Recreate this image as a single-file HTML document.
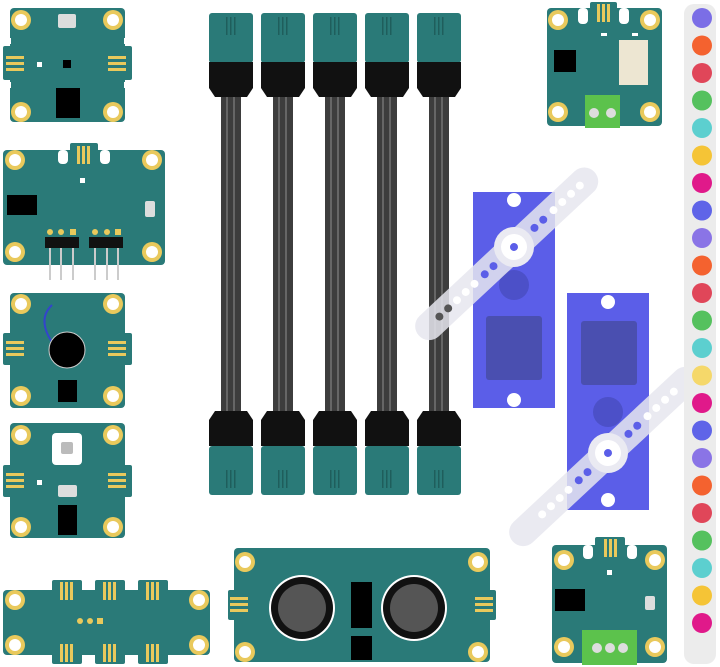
<!DOCTYPE html>
<html><head><meta charset="utf-8"><style>html,body{margin:0;padding:0;background:#fff}svg{display:block}</style></head>
<body>
<svg width="720" height="667" viewBox="0 0 720 667" xmlns="http://www.w3.org/2000/svg">
<defs>
<g id="hole"><circle r="10" fill="#e9c95c"/><circle r="6" fill="#fff"/></g>
<g id="padsH"><rect x="0" y="0" width="18" height="3" fill="#e9c95c"/><rect x="0" y="6" width="18" height="3" fill="#e9c95c"/><rect x="0" y="12" width="18" height="3" fill="#e9c95c"/></g>
<g id="padsV"><rect x="0" y="0" width="3" height="18" fill="#e9c95c"/><rect x="5" y="0" width="3" height="18" fill="#e9c95c"/><rect x="10" y="0" width="3" height="18" fill="#e9c95c"/></g>
<g id="cable">
 <rect x="2" y="13" width="44" height="50" rx="3" fill="#2a7a78"/>
 <rect x="19" y="17" width="1.5" height="18" fill="#1f5e5c"/><rect x="23" y="17" width="1.5" height="18" fill="#1f5e5c"/><rect x="27" y="17" width="1.5" height="18" fill="#1f5e5c"/>
 <path d="M2 62 H46 V88 L40 97 H8 L2 88Z" fill="#111"/>
 <rect x="14" y="97" width="20" height="314" fill="#3d3d3d"/>
 <rect x="19" y="97" width="2" height="314" fill="#666"/><rect x="26" y="97" width="2" height="314" fill="#666"/>
 <path d="M8 411 H40 L46 420 V446 H2 V420Z" fill="#111"/>
 <rect x="2" y="446" width="44" height="49" rx="3" fill="#2a7a78"/>
 <rect x="19" y="470" width="1.5" height="18" fill="#1f5e5c"/><rect x="23" y="470" width="1.5" height="18" fill="#1f5e5c"/><rect x="27" y="470" width="1.5" height="18" fill="#1f5e5c"/>
</g>
</defs>

<!-- Module 1 -->
<rect x="10" y="8" width="115" height="114" rx="4" fill="#2a7a78"/>
<rect x="3" y="46" width="129" height="34" rx="2" fill="#2a7a78"/>
<rect x="3" y="38" width="8" height="6" fill="#fff"/><rect x="124" y="38" width="8" height="6" fill="#fff"/>
<rect x="3" y="82" width="8" height="6" fill="#fff"/><rect x="124" y="82" width="8" height="6" fill="#fff"/>
<use href="#padsH" x="6" y="56"/><use href="#padsH" x="108" y="56"/>
<use href="#hole" x="21" y="20"/><use href="#hole" x="113" y="20"/><use href="#hole" x="21" y="112"/><use href="#hole" x="113" y="112"/>
<rect x="58" y="14" width="18" height="14" rx="2" fill="#ddd"/>
<rect x="37" y="62" width="5" height="5" fill="#fff"/><rect x="63" y="60" width="8" height="8" fill="#000"/>
<rect x="56" y="88" width="24" height="30" fill="#000"/>

<!-- Module 2 -->
<rect x="3" y="150" width="162" height="115" rx="4" fill="#2a7a78"/>
<rect x="70" y="143" width="28" height="20" rx="2" fill="#2a7a78"/>
<rect x="58" y="150" width="10" height="14" rx="4" fill="#fff"/><rect x="100" y="150" width="10" height="14" rx="4" fill="#fff"/>
<use href="#padsV" x="77" y="146"/>
<use href="#hole" x="15" y="160"/><use href="#hole" x="152" y="160"/><use href="#hole" x="15" y="252"/><use href="#hole" x="152" y="252"/>
<rect x="7" y="195" width="30" height="20" fill="#000"/>
<rect x="145" y="201" width="10" height="16" rx="2" fill="#ddd"/>
<rect x="80" y="178" width="5" height="5" fill="#fff"/>
<rect x="45" y="237" width="34" height="11" fill="#111"/><rect x="89" y="237" width="34" height="11" fill="#111"/>
<g fill="#ccc"><rect x="49" y="248" width="2" height="32"/><rect x="60" y="248" width="2" height="32"/><rect x="72" y="248" width="2" height="32"/><rect x="94" y="248" width="2" height="32"/><rect x="106" y="248" width="2" height="32"/><rect x="117" y="248" width="2" height="32"/></g>
<g fill="#e9c95c"><circle cx="50" cy="232" r="3"/><circle cx="61" cy="232" r="3"/><rect x="70" y="229" width="6" height="6"/><circle cx="95" cy="232" r="3"/><circle cx="107" cy="232" r="3"/><rect x="115" y="229" width="6" height="6"/></g>

<!-- Module 3 -->
<rect x="10" y="293" width="115" height="115" rx="4" fill="#2a7a78"/>
<rect x="3" y="333" width="129" height="32" rx="2" fill="#2a7a78"/>
<use href="#padsH" x="6" y="341"/><use href="#padsH" x="108" y="341"/>
<use href="#hole" x="21" y="304"/><use href="#hole" x="113" y="304"/><use href="#hole" x="21" y="396"/><use href="#hole" x="113" y="396"/>
<path d="M52 305 Q36 320 54 345" stroke="#3344cc" stroke-width="2" fill="none"/>
<circle cx="67" cy="350" r="18" fill="#000" stroke="#ccc" stroke-width="1"/>
<rect x="58" y="380" width="19" height="22" fill="#000"/>

<!-- Module 4 -->
<rect x="10" y="423" width="115" height="115" rx="4" fill="#2a7a78"/>
<rect x="3" y="465" width="129" height="32" rx="2" fill="#2a7a78"/>
<use href="#padsH" x="6" y="473"/><use href="#padsH" x="108" y="473"/>
<use href="#hole" x="21" y="435"/><use href="#hole" x="113" y="435"/><use href="#hole" x="21" y="527"/><use href="#hole" x="113" y="527"/>
<rect x="52" y="433" width="30" height="32" rx="4" fill="#fff"/><rect x="61" y="442" width="12" height="12" rx="2" fill="#bbb"/>
<rect x="37" y="480" width="5" height="5" fill="#fff"/>
<rect x="58" y="485" width="19" height="12" rx="2" fill="#ddd"/>
<rect x="58" y="505" width="19" height="30" fill="#000"/>

<!-- Module 5 strip -->
<rect x="3" y="590" width="207" height="65" rx="4" fill="#2a7a78"/>
<g fill="#2a7a78"><rect x="52" y="580" width="30" height="84" rx="2"/><rect x="95" y="580" width="30" height="84" rx="2"/><rect x="138" y="580" width="30" height="84" rx="2"/></g>
<use href="#padsV" x="60" y="582"/><use href="#padsV" x="103" y="582"/><use href="#padsV" x="146" y="582"/>
<use href="#padsV" x="60" y="644"/><use href="#padsV" x="103" y="644"/><use href="#padsV" x="146" y="644"/>
<use href="#hole" x="15" y="600"/><use href="#hole" x="199" y="600"/><use href="#hole" x="15" y="645"/><use href="#hole" x="199" y="645"/>
<circle cx="80" cy="621" r="3" fill="#e9c95c"/><circle cx="90" cy="621" r="3" fill="#e9c95c"/><rect x="97" y="618" width="6" height="6" fill="#e9c95c"/>

<!-- Cables -->
<use href="#cable" x="207"/><use href="#cable" x="259"/><use href="#cable" x="311"/><use href="#cable" x="363"/><use href="#cable" x="415"/>

<!-- Servo 1 -->
<rect x="473" y="192" width="82" height="216" fill="#5b5ee8"/>
<circle cx="514" cy="200" r="7" fill="#fff"/><circle cx="514" cy="400" r="7" fill="#fff"/>
<circle cx="514" cy="285" r="15" fill="#4c50c8"/>
<rect x="486" y="316" width="56" height="64" rx="3" fill="#4a4fb0"/>
<g transform="translate(514,247) rotate(-43)">
 <rect x="-130" y="-14" width="240" height="28" rx="14" fill="#e6e6ee" opacity="0.85"/>
 <circle r="20" fill="#eaeaf2"/><circle r="13" fill="#fff"/><circle r="4" fill="#5b5ee8"/>
 <g fill="#5b5ee8"><circle cx="28" r="4"/><circle cx="40" r="4"/><circle cx="-28" r="4"/><circle cx="-40" r="4"/></g>
 <g fill="#fff"><circle cx="54" r="4"/><circle cx="66" r="4"/><circle cx="78" r="4"/><circle cx="90" r="4"/><circle cx="-54" r="4"/><circle cx="-66" r="4"/><circle cx="-78" r="4"/></g>
 <g fill="#555"><circle cx="-90" r="4"/><circle cx="-102" r="4"/></g>
</g>

<!-- Servo 2 -->
<rect x="567" y="293" width="82" height="217" fill="#5b5ee8"/>
<circle cx="608" cy="302" r="7" fill="#fff"/><circle cx="608" cy="500" r="7" fill="#fff"/>
<circle cx="608" cy="412" r="15" fill="#4c50c8"/>
<rect x="581" y="321" width="56" height="64" rx="3" fill="#4a4fb0"/>
<g transform="translate(608,453) rotate(-43)">
 <rect x="-130" y="-14" width="250" height="28" rx="14" fill="#e6e6ee" opacity="0.85"/>
 <circle r="20" fill="#eaeaf2"/><circle r="13" fill="#fff"/><circle r="4" fill="#5b5ee8"/>
 <g fill="#5b5ee8"><circle cx="28" r="4"/><circle cx="40" r="4"/><circle cx="-28" r="4"/><circle cx="-40" r="4"/></g>
 <g fill="#fff"><circle cx="54" r="4"/><circle cx="66" r="4"/><circle cx="78" r="4"/><circle cx="90" r="4"/><circle cx="-54" r="4"/><circle cx="-66" r="4"/><circle cx="-78" r="4"/><circle cx="-90" r="4"/></g>
</g>

<!-- Top-right module -->
<rect x="547" y="8" width="115" height="118" rx="4" fill="#2a7a78"/>
<rect x="590" y="2" width="27" height="20" rx="2" fill="#2a7a78"/>
<rect x="578" y="8" width="10" height="16" rx="4" fill="#fff"/><rect x="619" y="8" width="10" height="16" rx="4" fill="#fff"/>
<use href="#padsV" x="597" y="4"/>
<use href="#hole" x="558" y="20"/><use href="#hole" x="650" y="20"/><use href="#hole" x="558" y="112"/><use href="#hole" x="650" y="112"/>
<rect x="601" y="33" width="6" height="3" fill="#fff"/><rect x="632" y="33" width="6" height="3" fill="#fff"/>
<rect x="554" y="50" width="22" height="22" fill="#000"/>
<rect x="619" y="40" width="29" height="45" fill="#ede6d2"/>
<rect x="585" y="95" width="35" height="33" fill="#5cc24c"/>
<circle cx="594" cy="113" r="5" fill="#ddd"/><circle cx="611" cy="113" r="5" fill="#ddd"/>

<!-- Ultrasonic -->
<rect x="234" y="548" width="256" height="114" rx="4" fill="#2a7a78"/>
<rect x="228" y="590" width="268" height="30" rx="2" fill="#2a7a78"/>
<use href="#padsH" x="230" y="597"/><use href="#padsH" x="475" y="597"/>
<use href="#hole" x="245" y="562"/><use href="#hole" x="478" y="562"/><use href="#hole" x="245" y="652"/><use href="#hole" x="478" y="652"/>
<circle cx="302" cy="608" r="33" fill="#fff"/><circle cx="302" cy="608" r="31" fill="#111"/><circle cx="302" cy="608" r="24" fill="#555"/>
<circle cx="414" cy="608" r="33" fill="#fff"/><circle cx="414" cy="608" r="31" fill="#111"/><circle cx="414" cy="608" r="24" fill="#555"/>
<rect x="351" y="582" width="21" height="46" fill="#000"/><rect x="351" y="636" width="21" height="24" fill="#000"/>

<!-- Bottom-right module -->
<rect x="552" y="545" width="115" height="118" rx="4" fill="#2a7a78"/>
<rect x="595" y="537" width="30" height="20" rx="2" fill="#2a7a78"/>
<rect x="583" y="545" width="10" height="14" rx="4" fill="#fff"/><rect x="627" y="545" width="10" height="14" rx="4" fill="#fff"/>
<use href="#padsV" x="604" y="539"/>
<use href="#hole" x="564" y="560"/><use href="#hole" x="655" y="560"/><use href="#hole" x="564" y="647"/><use href="#hole" x="655" y="647"/>
<rect x="607" y="570" width="5" height="5" fill="#fff"/>
<rect x="555" y="589" width="30" height="22" fill="#000"/>
<rect x="645" y="596" width="10" height="14" rx="2" fill="#ddd"/>
<rect x="582" y="630" width="55" height="35" fill="#5cc24c"/>
<circle cx="597" cy="648" r="5" fill="#ddd"/><circle cx="610" cy="648" r="5" fill="#ddd"/><circle cx="623" cy="648" r="5" fill="#ddd"/>

<!-- Color strip -->
<rect x="684" y="4" width="32" height="660" rx="10" fill="#ececec"/>
<g>
<circle cx="702" cy="18" r="10" fill="#7b6ee6"/>
<circle cx="702" cy="45.5" r="10" fill="#f4622f"/>
<circle cx="702" cy="73" r="10" fill="#e04659"/>
<circle cx="702" cy="100.5" r="10" fill="#55c15e"/>
<circle cx="702" cy="128" r="10" fill="#5ccfcf"/>
<circle cx="702" cy="155.5" r="10" fill="#f5c436"/>
<circle cx="702" cy="183" r="10" fill="#e0198a"/>
<circle cx="702" cy="210.5" r="10" fill="#5f64e8"/>
<circle cx="702" cy="238" r="10" fill="#8a74e6"/>
<circle cx="702" cy="265.5" r="10" fill="#f4622f"/>
<circle cx="702" cy="293" r="10" fill="#e04659"/>
<circle cx="702" cy="320.5" r="10" fill="#55c15e"/>
<circle cx="702" cy="348" r="10" fill="#5ccfcf"/>
<circle cx="702" cy="375.5" r="10" fill="#f5d86a"/>
<circle cx="702" cy="403" r="10" fill="#e0198a"/>
<circle cx="702" cy="430.5" r="10" fill="#5f64e8"/>
<circle cx="702" cy="458" r="10" fill="#8a74e6"/>
<circle cx="702" cy="485.5" r="10" fill="#f4622f"/>
<circle cx="702" cy="513" r="10" fill="#e04659"/>
<circle cx="702" cy="540.5" r="10" fill="#55c15e"/>
<circle cx="702" cy="568" r="10" fill="#5ccfcf"/>
<circle cx="702" cy="595.5" r="10" fill="#f5c436"/>
<circle cx="702" cy="623" r="10" fill="#e0198a"/>
</g>
</svg>
</body></html>
